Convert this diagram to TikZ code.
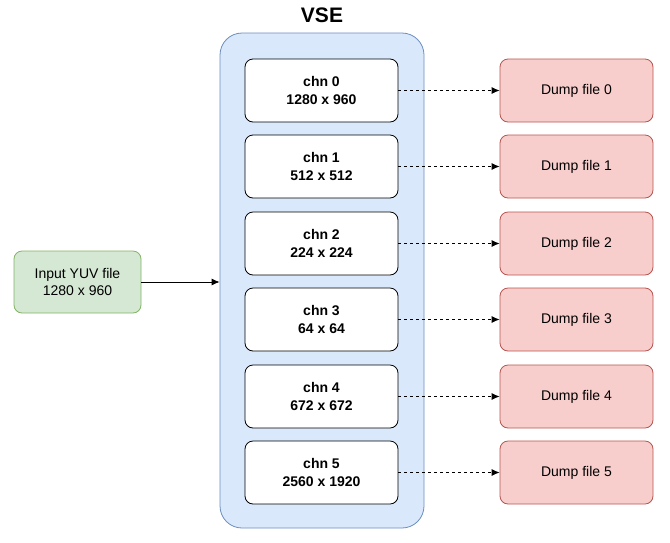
\documentclass[tikz,border=0pt]{standalone}
\usepackage{fontspec}
\setmainfont{Liberation Sans}
\usetikzlibrary{arrows.meta}
\definecolor{vsef}{HTML}{DAE8FC}\definecolor{vses}{HTML}{6C8EBF}
\definecolor{dmpf}{HTML}{F8CECC}\definecolor{dmps}{HTML}{B85450}
\definecolor{inf}{HTML}{D5E8D4}\definecolor{ins}{HTML}{82B366}
\begin{document}
\begin{tikzpicture}[x=1pt,y=-1pt,
 box/.style={draw,rounded corners=8pt,minimum width=153pt,minimum height=63pt,align=center,font=\fontsize{14}{17.5}\selectfont\bfseries,fill=white,line width=0.8pt},
 dump/.style={draw=dmps,fill=dmpf,rounded corners=8pt,minimum width=153pt,minimum height=63pt,font=\fontsize{14}{17}\selectfont,line width=0.8pt},
 arr/.style={-{Latex[length=8pt,width=7pt]},line width=0.8pt}]
\useasboundingbox (0,0) rectangle (670,542);
\node[draw=vses,fill=vsef,rounded corners=22pt,minimum width=204pt,minimum height=495pt,line width=0.8pt] (vse) at (322,280.5) {};
\node[font=\fontsize{21}{24}\selectfont\bfseries] (title) at (322,15) {VSE};
\node[draw=ins,fill=inf,rounded corners=8pt,minimum width=127pt,minimum height=62pt,align=center,font=\fontsize{14}{17}\selectfont,line width=0.8pt] (in) at (77.5,282) {Input YUV file\\1280 x 960};
\draw[arr] (in.east) -- (vse.west|-in.east);
\foreach \i/\y/\t in {0/90.5/1280 x 960,1/166.5/512 x 512,2/243.5/224 x 224,3/319.5/64 x 64,4/396.5/672 x 672,5/472.5/2560 x 1920}{
 \node[box] (c\i) at (321.5,\y) {chn \i\\\t};
 \node[dump] (d\i) at (576.5,\y) {Dump file \i};
 \draw[arr,dashed] (c\i) -- (d\i);
}
\end{tikzpicture}
\end{document}
